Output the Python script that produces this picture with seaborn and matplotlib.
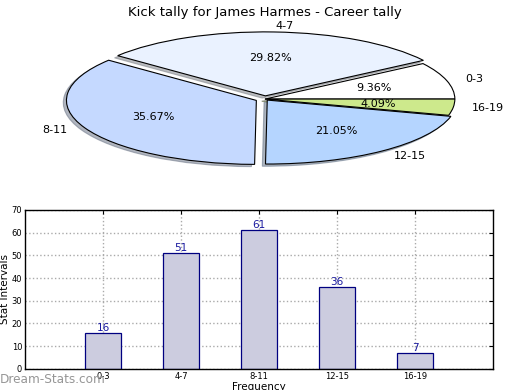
import matplotlib
matplotlib.use("Agg")
import matplotlib.pyplot as plt
import seaborn as sns

# data
intervals = ["0-3", "4-7", "8-11", "12-15", "16-19"]
counts = [16, 51, 61, 36, 7]
pie_colors = ["#ffffff", "#eaf2ff", "#c5d9ff", "#b5d5ff", "#cde98c"]
explode = [0.0, 0.05, 0.05, 0.02, 0.0]
y_ticks = [0, 10, 20, 30, 40, 50, 60, 70]

sns.set_style("white")
plt.rcParams["font.family"] = ["DejaVu Sans"]
plt.rcParams["text.color"] = "black"
plt.rcParams["xtick.color"] = "black"
plt.rcParams["ytick.color"] = "black"
plt.rcParams["axes.labelcolor"] = "black"

fig = plt.figure(figsize=(5.2, 3.9), dpi=100)

# --- pie ---
ax_pie = fig.add_axes([0.053, 0.541, 0.913, 0.410])
ax_pie.pie(counts, labels=intervals, colors=pie_colors, explode=explode,
           autopct="%1.2f%%", startangle=0,
           shadow={"ox": -0.012, "oy": -0.025, "shade": 0.5},
           wedgeprops={"edgecolor": "black", "linewidth": 0.8},
           textprops={"fontsize": 8})
ax_pie.set_aspect("auto")
ax_pie.set_xlim(-1.25, 1.25)
ax_pie.set_ylim(-1.25, 1.25)
ax_pie.set_title("Kick tally for James Harmes - Career tally", fontsize=9.5, pad=2)

# --- bars ---
ax_bar = fig.add_axes([0.048, 0.054, 0.900, 0.408])
sns.barplot(x=intervals, y=counts, color="#ccccdf", saturation=1, width=0.46,
            edgecolor="#000080", linewidth=0.9, ax=ax_bar, zorder=2)
for i, v in enumerate(counts):
    ax_bar.text(i, v, str(v), ha="center", va="bottom", fontsize=7.5,
                color="#1a1aa0", zorder=3)
ax_bar.set_xlim(-1, 5)
ax_bar.set_ylim(0, 70)
ax_bar.set_yticks(y_ticks)
ax_bar.grid(True, linestyle=":", color="#aaaaaa", linewidth=1, zorder=0)
ax_bar.set_axisbelow(True)
ax_bar.tick_params(axis="both", labelsize=6, direction="in", length=3,
                   top=True, right=True, pad=2)
ax_bar.set_xlabel("Frequency", fontsize=7.5, labelpad=1)
ax_bar.set_ylabel("Stat Intervals", fontsize=7.5)
ax_bar.yaxis.set_label_coords(-0.032, 0.5)
for s in ax_bar.spines.values():
    s.set_linewidth(1)
    s.set_color("black")

fig.text(0.0, 0.01, "Dream-Stats.com", fontsize=8.7, color="#969696",
         ha="left", va="bottom")

fig.savefig("out.png", dpi=100)
